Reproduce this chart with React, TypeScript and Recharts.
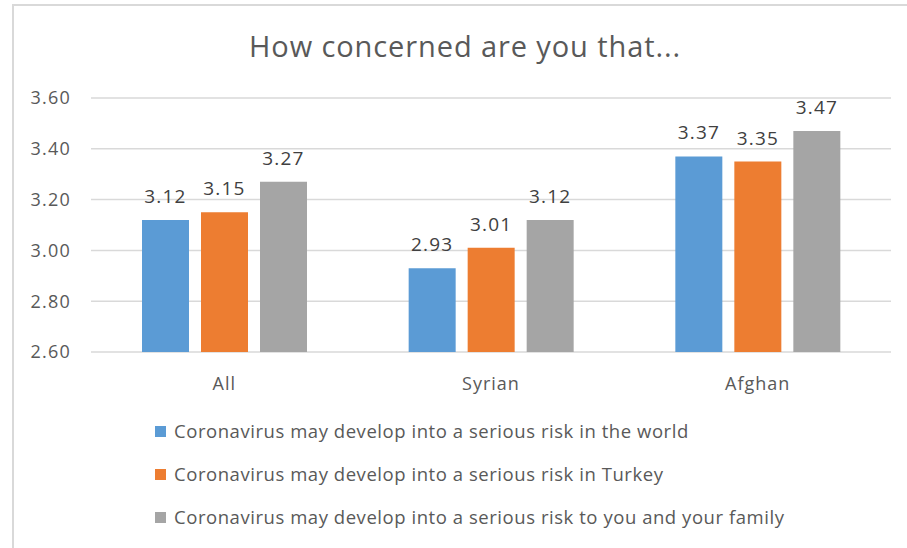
import { BarChart, Bar, XAxis, YAxis, CartesianGrid, LabelList } from 'recharts';

// Survey means per group
const groups = ['All', 'Syrian', 'Afghan'];
const worldRisk = [3.12, 2.93, 3.37];
const turkeyRisk = [3.15, 3.01, 3.35];
const familyRisk = [3.27, 3.12, 3.47];
const yTicks = [2.6, 2.8, 3.0, 3.2, 3.4, 3.6];

const series = [
  { key: 'world', name: 'Coronavirus may develop into a serious risk in the world', color: '#5B9BD5', values: worldRisk },
  { key: 'turkey', name: 'Coronavirus may develop into a serious risk in Turkey', color: '#ED7D31', values: turkeyRisk },
  { key: 'family', name: 'Coronavirus may develop into a serious risk to you and your family', color: '#A5A5A5', values: familyRisk },
];

const chartData = groups.map((group, i) => {
  const row: Record<string, any> = { group };
  series.forEach((s) => { row[s.key] = s.values[i]; });
  return row;
});

const font = '"Open Sans", sans-serif';
const colors = {
  text: '#595959',
  label: '#404040',
  grid: '#D9D9D9',
};

export default function App() {
  return (
    <div style={{ position: 'absolute', left: 0, top: 0, width: 907, height: 548, overflow: 'hidden', background: '#fff', fontFamily: font }}>
      {/* chart frame, only top and left edges are visible in the crop */}
      <div style={{ position: 'absolute', left: 12, top: 4, width: 895, height: 544, borderTop: `2px solid ${colors.grid}`, borderLeft: `2px solid ${colors.grid}`, boxSizing: 'border-box' }} />
      <div style={{ position: 'absolute', left: 165, top: 30, width: 600, textAlign: 'center', fontSize: 29, letterSpacing: 0.9, lineHeight: '32px', color: colors.text, whiteSpace: 'nowrap' }}>
        How concerned are you that...
      </div>
      <div style={{ position: 'absolute', left: 0, top: 0 }}>
        <BarChart width={907} height={548} data={chartData} margin={{ top: 98, right: 16, bottom: 156, left: 31 }} barGap={12} barSize={47}>
          <CartesianGrid vertical={false} stroke={colors.grid} strokeWidth={1.5} />
          <XAxis
            dataKey="group"
            height={40}
            axisLine={false}
            tickLine={false}
            tickSize={0}
            tickMargin={25}
            tick={{ fill: colors.text, fontSize: 18, fontFamily: font, letterSpacing: 1 }}
          />
          <YAxis
            width={60}
            domain={[2.6, 3.6]}
            ticks={yTicks}
            axisLine={false}
            tickLine={false}
            tickSize={0}
            tickMargin={20}
            tickFormatter={(v: number) => v.toFixed(2)}
            tick={{ fill: colors.text, fontSize: 18, fontFamily: font, letterSpacing: 1.2 }}
          />
          {series.map((s) => (
            <Bar key={s.key} dataKey={s.key} name={s.name} fill={s.color} isAnimationActive={false}>
              <LabelList dataKey={s.key} position="top" offset={17} formatter={(v: number) => v.toFixed(2)} style={{ fill: colors.label, fontSize: 19, fontFamily: font, letterSpacing: 1.2 }} />
            </Bar>
          ))}
        </BarChart>
      </div>
      {series.map((s, i) => (
        <div key={s.key} style={{ position: 'absolute', left: 155, top: 419 + i * 43, height: 24, display: 'flex', alignItems: 'center', whiteSpace: 'nowrap' }}>
          <span style={{ width: 11, height: 11, background: s.color, marginRight: 8 }} />
          <span style={{ fontSize: 18.5, letterSpacing: 0.55, color: colors.text, lineHeight: '24px' }}>{s.name}</span>
        </div>
      ))}
    </div>
  );
}
